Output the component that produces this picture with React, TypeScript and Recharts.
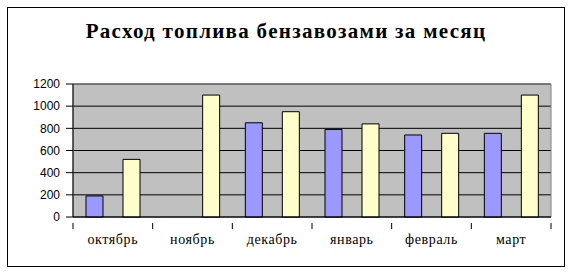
import React from 'react';
import {
  BarChart,
  Bar,
  XAxis,
  YAxis,
  CartesianGrid,
  ReferenceArea,
} from 'recharts';

const months = ['октябрь', 'ноябрь', 'декабрь', 'январь', 'февраль', 'март'];
const truck1 = [190, null, 850, 790, 740, 755];
const truck2 = [520, 1100, 950, 840, 755, 1100];
const yTicks = [0, 200, 400, 600, 800, 1000, 1200];

const data = months.map((month, i) => ({
  month,
  truck1: truck1[i],
  truck2: truck2[i],
}));

const plotLeft = 73;
const plotRight = 551;
const band = (plotRight - plotLeft) / months.length;

// category labels plus tick marks on the band boundaries, like Excel
const MonthTick = (props: any) => {
  const { x, y, payload, index } = props;
  const left = x - band / 2;
  return (
    <g>
      <line x1={left} y1={y - 2} x2={left} y2={y + 4} stroke="#000" />
      {index === months.length - 1 && (
        <line x1={x + band / 2} y1={y - 2} x2={x + band / 2} y2={y + 4} stroke="#000" />
      )}
      <text
        x={x}
        y={y + 19}
        textAnchor="middle"
        fontFamily="'Liberation Serif', serif"
        fontSize={14}
        letterSpacing={0.6}
        fill="#000"
      >
        {payload.value}
      </text>
    </g>
  );
};

const App: React.FC = () => {
  return (
    <div style={{ position: 'absolute', left: 0, top: 0, width: 572, height: 273, background: '#fff' }}>
      <div
        style={{
          position: 'absolute',
          left: 7,
          top: 7,
          width: 556,
          height: 258,
          border: '1px solid #000',
        }}
      />
      <div
        style={{
          position: 'absolute',
          left: 0,
          top: 20,
          width: 572,
          textAlign: 'center',
          fontFamily: "'Liberation Serif', serif",
          fontWeight: 'bold',
          fontSize: 21,
          letterSpacing: 1.3,
          lineHeight: '22px',
        }}
      >
        Расход топлива бензавозами за месяц
      </div>
      <div style={{ position: 'absolute', left: 0, top: 0 }}>
        <BarChart
          width={572}
          height={273}
          data={data}
          margin={{ top: 84, right: 572 - plotRight, left: 0, bottom: 26 }}
          barSize={17}
          barGap={20}
        >
          <CartesianGrid
            vertical={false}
            stroke="#000"
            fill="#C0C0C0"
            fillOpacity={1}
          />
          <ReferenceArea y1={0} y2={1200} fill="none" stroke="#808080" strokeWidth={1} />
          <XAxis
            dataKey="month"
            height={30}
            axisLine={{ stroke: '#000' }}
            tickLine={false}
            interval={0}
            tick={<MonthTick />}
          />
          <YAxis
            width={plotLeft}
            domain={[0, 1200]}
            ticks={yTicks}
            interval={0}
            axisLine={{ stroke: '#000' }}
            tickLine={{ stroke: '#000' }}
            tickSize={7}
            tickMargin={6}
            tick={{ fill: '#000', fontSize: 12, fontFamily: "'Liberation Sans', Arial, sans-serif" }}
          />
          <Bar dataKey="truck1" name="Бензовоз 1" fill="#9999FF" stroke="#000" strokeWidth={1} isAnimationActive={false} />
          <Bar dataKey="truck2" name="Бензовоз 2" fill="#FFFFCC" stroke="#000" strokeWidth={1} isAnimationActive={false} />
        </BarChart>
      </div>
    </div>
  );
};

export default App;
